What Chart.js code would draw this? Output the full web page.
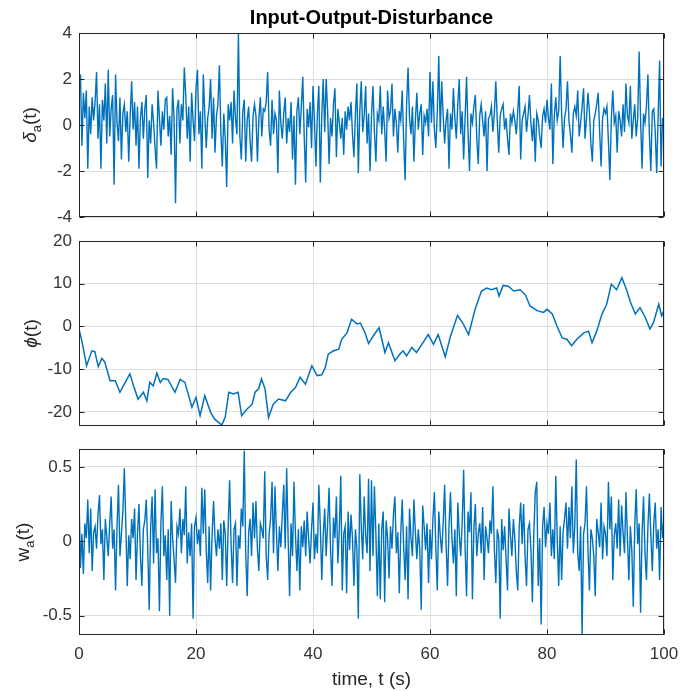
<!DOCTYPE html>
<html><head><meta charset="utf-8">
<script src="https://cdn.jsdelivr.net/npm/chart.js@4.4.1/dist/chart.umd.min.js"></script>
<style>
html,body{margin:0;padding:0;background:#fff;}
#wrap{position:relative;width:690px;height:691px;background:#fff;}
canvas{position:absolute;left:0;top:0;}
</style></head><body>
<div id="wrap">
<canvas id="c1" width="690" height="691"></canvas>
<canvas id="c2" width="690" height="691"></canvas>
<canvas id="c3" width="690" height="691"></canvas>
</div>
<script>
// ---------------- data ----------------
const sampleStep = 0.25; // seconds between samples of the noisy signals
const xTickValues = [0, 20, 40, 60, 80, 100];

const deltaA = [
1.6,2.2,-0.9,1.4,0.3,1.5,-1.9,0.8,-0.4,1.2,0.2,1.0,2.3,-0.6,0.9,-1.9,1.1,0.2,1.8,-0.8,
2.4,-0.5,0.7,1.3,-2.6,2.2,0.1,-0.7,1.2,-1.5,0.5,0.9,-0.3,0.6,-1.6,0.4,1.9,-0.2,1.0,-0.9,
0.8,-1.9,0.3,1.0,-0.6,0.7,1.3,-2.3,0.2,-0.8,0.9,0.1,-1.0,-1.9,1.5,0.3,-0.9,0.6,-0.2,1.1,
1.2,-0.5,0.4,-1.3,1.6,0.3,-3.4,0.7,1.1,-0.8,0.9,0.2,2.5,1.3,-0.6,0.8,-1.6,1.4,0.2,-0.7,
1.6,2.4,-0.4,0.6,-1.9,2.2,0.5,-1.0,0.3,0.8,2.0,-0.6,1.2,-1.2,0.4,0.9,2.6,-0.3,-1.8,0.5,
-0.6,-2.7,0.9,0.2,1.0,-0.8,1.5,0.3,-0.4,4.0,-0.5,-1.5,0.6,1.1,-1.6,0.2,0.8,-0.7,-1.6,0.4,
0.9,0.4,-1.6,0.3,1.2,-0.5,0.7,0.6,1.0,2.3,-0.2,-0.9,1.1,-0.4,0.5,0.2,-2.1,1.5,0.1,-0.6,
0.5,1.2,-0.8,0.3,-0.3,1.0,-1.5,0.4,-2.6,0.6,1.2,-0.4,0.8,2.1,-0.5,-2.5,0.7,-0.1,1.0,-1.0,
1.7,0.2,-1.8,0.5,1.7,-2.5,0.4,2.0,-0.3,2.0,0.6,-1.7,0.3,-0.5,0.9,1.6,-1.4,0.7,0.1,-0.6,
0.3,-1.3,0.6,-0.2,0.8,0.2,1.0,-0.4,-1.4,0.5,1.8,-2.1,0.6,1.9,-0.3,0.4,1.7,-0.8,0.5,-2.0,
0.4,1.7,-0.3,-1.6,0.5,0.2,1.7,-0.4,0.8,-0.2,-1.6,1.5,0.3,0.6,1.8,-0.5,0.7,0.1,-1.2,0.6,
0.2,1.5,-0.7,-2.4,0.9,2.5,0.3,-0.4,0.8,-1.6,0.2,1.4,-0.2,0.5,0.9,-1.3,0.4,0.1,0.7,-0.5,
2.3,0.1,1.9,-0.2,-1.0,0.6,3.0,-0.3,1.9,0.4,-0.8,0.2,0.7,-1.9,0.5,-0.2,1.6,0.3,-0.6,0.9,
2.0,-0.4,0.6,-1.5,0.3,2.1,-0.3,-2.0,0.5,0.1,0.8,1.3,-0.6,-1.7,0.4,0.9,0.2,-0.5,0.6,-2.0,
0.3,0.4,0.8,-0.3,0.5,1.9,0.2,-1.2,0.4,0.7,0.9,-0.2,0.3,-0.6,-1.3,0.5,0.1,0.6,0.2,-0.4,
0.6,1.7,-1.5,0.2,0.5,0.8,-0.3,0.4,1.3,0.1,-0.7,0.3,-1.6,0.5,0.2,-0.5,-1.0,0.4,0.7,0.1,
1.1,0.3,-0.2,1.8,-1.7,0.4,1.2,0.2,0.6,3.0,0.5,-1.0,0.3,0.7,1.9,0.2,-0.4,-1.2,0.5,0.8,
0.4,1.5,-0.5,0.1,0.8,1.6,-0.6,0.3,1.4,0.6,-0.8,-1.6,0.2,0.5,0.9,1.4,-0.3,-1.8,0.3,0.7,
0.5,0.8,-0.7,-2.4,0.3,1.5,0.1,0.4,-1.2,0.6,0.2,-0.5,0.9,-0.3,1.8,0.4,0.1,1.7,-0.6,0.2,
0.9,-0.5,0.3,3.2,0.2,-1.9,0.5,0.1,0.8,2.2,-0.4,-2.0,0.6,0.7,-0.3,-2.1,0.4,2.8,-1.8,0.3,
-0.2];

const phiTime = [0,0.5,1.3,2.2,2.7,3.3,3.9,4.4,5.3,6.2,7.0,7.9,8.7,9.3,10.1,11.0,11.6,12.1,12.7,13.3,
13.9,14.4,15.2,16.4,17.3,18.1,19.3,20.0,20.7,21.5,22.5,23.2,24.4,25.0,25.6,26.4,27.2,27.8,28.7,29.6,
30.1,30.7,31.2,31.8,32.4,33.2,34.1,35.3,36.2,37.0,37.8,38.7,39.8,40.7,41.5,42.1,42.6,43.5,44.4,44.9,
45.8,46.6,47.5,48.1,48.9,49.5,50.4,51.3,52.3,52.9,54.0,54.9,55.4,56.0,56.9,57.7,58.8,59.7,60.6,61.4,
62.6,63.5,64.7,65.6,66.6,67.7,68.8,69.7,70.5,71.4,71.8,72.5,73.4,74.3,75.4,76.3,77.1,78.3,79.4,80.0,
80.9,81.7,82.6,83.4,84.2,85.1,86.3,87.1,87.7,88.5,89.4,90.2,91.0,91.9,92.8,93.6,94.2,95.1,95.9,96.8,
97.6,98.2,99.1,99.6,100];
const phiValues = [-0.6,-3.5,-9.2,-5.7,-5.9,-9.4,-7.5,-8.3,-12.7,-12.7,-15.4,-13.1,-11.1,-13.8,-17.0,-15.4,-17.4,-13.1,-13.9,-10.9,
-13.1,-12.2,-12.4,-15.4,-12.4,-13.1,-18.9,-16.6,-20.9,-16.2,-20.1,-21.7,-23.1,-21.2,-15.4,-15.8,-15.4,-20.9,-19.4,-18.2,
-15.4,-14.6,-12.3,-14.6,-21.3,-18.2,-17.0,-17.4,-15.4,-14.3,-11.9,-13.5,-9.2,-11.5,-11.3,-9.6,-6.5,-5.7,-5.3,-3.0,
-1.5,1.7,0.6,0.8,-1.5,-4.0,-2.0,-0.3,-6.1,-3.8,-8.0,-6.4,-5.7,-6.9,-4.9,-6.1,-3.8,-1.9,-4.2,-1.9,
-7.1,-2.3,2.6,0.8,-1.9,4.0,8.3,9.0,8.6,9.0,7.1,9.6,9.4,8.3,8.6,7.4,4.8,3.7,3.3,4.0,
2.9,0.1,-2.7,-3.0,-4.5,-3.0,-1.5,-1.1,-3.8,-1.1,2.9,5.2,9.9,8.6,11.4,8.6,5.9,2.9,4.4,2.1,
-0.6,0.9,5.2,2.5,3.7];

const wA = [
0.31,-0.18,0.05,-0.22,0.12,0.02,0.28,-0.08,0.22,-0.2,0.06,0.1,-0.05,0.18,0.31,-0.02,0.08,-0.26,0.15,0.03,
-0.1,0.12,0.3,-0.05,0.08,-0.33,0.1,0.38,-0.1,0.05,0.2,0.49,0.12,-0.3,0.04,-0.12,0.15,0.02,0.22,-0.26,
0.05,0.25,-0.1,-0.3,0.08,0.14,0.28,-0.05,-0.46,0.1,0.3,-0.15,0.35,-0.08,0.02,-0.47,0.12,0.37,-0.1,0.04,
-0.26,0.08,-0.5,0.27,0.02,-0.12,-0.28,0.1,0.05,0.22,-0.08,0.15,0.04,0.37,-0.15,0.06,-0.1,0.12,-0.52,0.1,
0.16,-0.02,0.08,-0.1,0.36,0.05,0.35,-0.06,-0.28,0.1,-0.33,0.04,0.27,0.02,-0.1,0.08,-0.05,0.12,-0.26,0.14,
0.05,-0.3,0.1,0.41,-0.02,-0.28,0.08,0.12,-0.3,0.04,-0.05,0.22,0.1,0.61,-0.08,-0.37,0.06,0.15,-0.1,0.26,
0.02,0.27,-0.05,-0.2,0.12,0.08,0.02,0.47,-0.1,-0.26,0.05,0.15,0.4,-0.08,0.37,0.06,-0.2,0.1,-0.04,0.18,
0.38,-0.05,0.49,0.02,-0.37,0.12,-0.1,0.4,0.05,-0.2,0.08,-0.33,0.1,-0.04,0.14,-0.1,0.2,0.02,-0.15,0.08,
0.26,-0.12,0.05,-0.08,0.38,0.1,-0.26,0.04,0.22,-0.1,0.12,0.36,-0.06,-0.3,0.16,0.02,0.3,-0.15,0.08,0.44,
-0.33,0.05,0.1,-0.35,0.2,-0.06,0.18,0.02,-0.3,0.08,-0.05,-0.52,0.45,0.1,-0.12,0.3,0.04,-0.08,0.42,-0.2,
0.41,-0.1,0.37,0.05,-0.37,0.12,-0.39,0.08,0.2,-0.41,0.14,0.02,-0.25,0.1,-0.05,0.18,0.3,-0.08,0.06,-0.35,
0.05,0.28,-0.04,-0.26,0.1,-0.39,0.22,0.02,-0.1,0.28,0.06,-0.12,0.08,-0.05,-0.46,0.24,0.1,-0.06,0.12,-0.28,
0.08,-0.12,0.15,0.33,-0.05,-0.33,0.2,0.04,-0.08,0.12,0.38,-0.02,-0.3,0.1,0.33,0.02,-0.15,0.08,-0.37,0.26,
0.05,-0.1,0.12,0.48,-0.04,-0.37,0.2,0.06,0.33,-0.39,0.08,0.25,-0.1,0.05,0.12,-0.08,0.23,-0.26,0.1,0.02,
-0.08,0.14,0.05,0.37,-0.05,-0.28,0.08,0.02,-0.52,0.15,-0.06,0.1,-0.12,-0.33,0.22,0.04,-0.1,0.15,0.02,-0.2,
-0.33,0.1,0.26,-0.02,0.25,-0.1,-0.3,0.08,0.12,-0.05,-0.41,0.06,0.33,0.4,-0.3,0.02,-0.56,0.1,0.23,-0.04,
0.12,0.05,0.26,-0.1,0.08,-0.12,0.44,0.02,-0.3,0.1,-0.26,0.06,0.15,0.26,-0.05,0.23,0.02,0.37,-0.08,0.1,
0.55,-0.08,-0.2,0.1,-0.64,0.05,0.12,0.37,-0.05,-0.33,0.08,0.02,-0.1,-0.37,0.15,0.06,-0.04,0.26,-0.12,0.1,
0.05,-0.1,0.4,0.08,0.3,-0.26,0.04,0.12,-0.05,0.28,-0.1,0.24,0.06,-0.08,0.33,0.02,-0.26,0.1,-0.06,-0.44,
0.1,0.35,-0.02,0.12,-0.48,0.05,0.3,-0.08,-0.26,0.1,0.32,0.04,-0.2,0.12,0.26,-0.05,0.08,-0.26,0.23,0.02,
0.15];

const titleText = 'Input-Output-Disturbance';
const xLabelText = 'time, t (s)';

// ---------------- drawing ----------------
const FONT = '"Liberation Sans", Arial, Helvetica, sans-serif';
const W = 690, H = 691;
const PLOT_LEFT = 79, PLOT_RIGHT = 664;
const LINE_COLOR = '#0072BD';
const TEXT_COLOR = '#262626';

function sampled(values) {
  return values.map((v, i) => ({ x: i * sampleStep, y: v }));
}
function paired(ts, vs) {
  return ts.map((t, i) => ({ x: t, y: vs[i] }));
}

function drawYLabel(ctx, cx, cy, parts) {
  ctx.save();
  ctx.translate(cx, cy);
  ctx.rotate(-Math.PI / 2);
  ctx.fillStyle = TEXT_COLOR;
  ctx.textBaseline = 'middle';
  ctx.textAlign = 'left';
  let total = 0;
  parts.forEach(p => { ctx.font = p.font; p.w = ctx.measureText(p.text).width; total += p.w; });
  let x = -total / 2;
  parts.forEach(p => { ctx.font = p.font; ctx.fillText(p.text, x, p.dy || 0); x += p.w; });
  ctx.restore();
}

const framePlugin = {
  id: 'frame',
  afterDraw(chart, args, opts) {
    const ctx = chart.ctx;
    const a = chart.chartArea;
    const xs = chart.scales.x, ys = chart.scales.y;
    ctx.save();
    ctx.strokeStyle = TEXT_COLOR;
    ctx.lineWidth = 1;
    const L = Math.round(a.left) + 0.5, R = Math.round(a.right) - 0.5;
    const T = Math.round(a.top) + 0.5, B = Math.round(a.bottom) - 0.5;
    ctx.strokeRect(L, T, R - L, B - T);
    const tl = 5;
    ctx.beginPath();
    xs.ticks.forEach(t => {
      const px = Math.round(xs.getPixelForValue(t.value)) + 0.5;
      ctx.moveTo(px, B); ctx.lineTo(px, B - tl);
      ctx.moveTo(px, T); ctx.lineTo(px, T + tl);
    });
    ys.ticks.forEach(t => {
      const py = Math.round(ys.getPixelForValue(t.value)) + 0.5;
      ctx.moveTo(L, py); ctx.lineTo(L + tl, py);
      ctx.moveTo(R, py); ctx.lineTo(R - tl, py);
    });
    ctx.stroke();
    if (opts.draw) opts.draw(ctx, chart);
    ctx.restore();
  }
};

function makeChart(id, points, cfg) {
  const xHeight = cfg.showX ? 40 : 0;
  return new Chart(document.getElementById(id), {
    type: 'line',
    data: { datasets: [{
      data: points,
      borderColor: LINE_COLOR,
      borderWidth: cfg.lineWidth,
      pointRadius: 0,
      tension: 0,
      fill: false
    }]},
    options: {
      responsive: false,
      animation: false,
      parsing: false,
      normalized: true,
      events: [],
      layout: { padding: { left: 0, right: W - PLOT_RIGHT, top: cfg.top, bottom: H - cfg.bottom - xHeight } },
      plugins: {
        legend: { display: false },
        tooltip: { enabled: false },
        title: { display: false },
        frame: { draw: cfg.draw }
      },
      scales: {
        x: {
          type: 'linear', min: 0, max: 100,
          afterBuildTicks: s => { s.ticks = xTickValues.map(v => ({ value: v })); },
          afterFit: s => { s.height = xHeight; },
          border: { display: false },
          grid: { color: '#dedede', lineWidth: 1, drawTicks: false },
          ticks: { display: cfg.showX, autoSkip: false, padding: 9, color: '#333', font: { family: FONT, size: 17 }, maxRotation: 0 }
        },
        y: {
          type: 'linear', min: cfg.yMin, max: cfg.yMax,
          afterBuildTicks: s => { s.ticks = cfg.yTicks.map(v => ({ value: v })); },
          afterFit: s => { s.width = PLOT_LEFT; },
          border: { display: false },
          grid: { color: '#dedede', lineWidth: 1, drawTicks: false },
          ticks: { padding: 7, color: '#333', font: { family: FONT, size: 17 } }
        }
      }
    },
    plugins: [framePlugin]
  });
}

const topTicks = [-4, -2, 0, 2, 4];
const midTicks = [-20, -10, 0, 10, 20];
const botTicks = [-0.5, 0, 0.5];

makeChart('c1', sampled(deltaA), {
  top: 33, bottom: 217, yMin: -4, yMax: 4, yTicks: topTicks, showX: false, lineWidth: 1.4,
  draw(ctx, chart) {
    const a = chart.chartArea;
    ctx.fillStyle = '#000';
    ctx.font = 'bold 20px ' + FONT;
    ctx.textAlign = 'center';
    ctx.textBaseline = 'alphabetic';
    ctx.fillText(titleText, (a.left + a.right) / 2, 24);
    drawYLabel(ctx, 31, (a.top + a.bottom) / 2, [
      { text: 'δ', font: 'italic 19px ' + FONT },
      { text: 'a', font: '13px ' + FONT, dy: 6 },
      { text: '(t)', font: '19px ' + FONT }
    ]);
  }
});

makeChart('c2', paired(phiTime, phiValues), {
  top: 241, bottom: 426, yMin: -23.3, yMax: 20, yTicks: midTicks, showX: false, lineWidth: 1.5,
  draw(ctx, chart) {
    const a = chart.chartArea;
    drawYLabel(ctx, 32, (a.top + a.bottom) / 2, [
      { text: 'ϕ', font: 'italic 19px ' + FONT },
      { text: '(t)', font: '19px ' + FONT }
    ]);
  }
});

makeChart('c3', sampled(wA), {
  top: 449, bottom: 635, yMin: -0.63, yMax: 0.62, yTicks: botTicks, showX: true, lineWidth: 1.4,
  draw(ctx, chart) {
    const a = chart.chartArea;
    drawYLabel(ctx, 24, (a.top + a.bottom) / 2, [
      { text: 'w', font: '19px ' + FONT },
      { text: 'a', font: '13px ' + FONT, dy: 6 },
      { text: '(t)', font: '19px ' + FONT }
    ]);
    ctx.fillStyle = TEXT_COLOR;
    ctx.font = '19px ' + FONT;
    ctx.textAlign = 'center';
    ctx.textBaseline = 'middle';
    ctx.fillText(xLabelText, (a.left + a.right) / 2, 680);
  }
});
</script>
</body></html>
